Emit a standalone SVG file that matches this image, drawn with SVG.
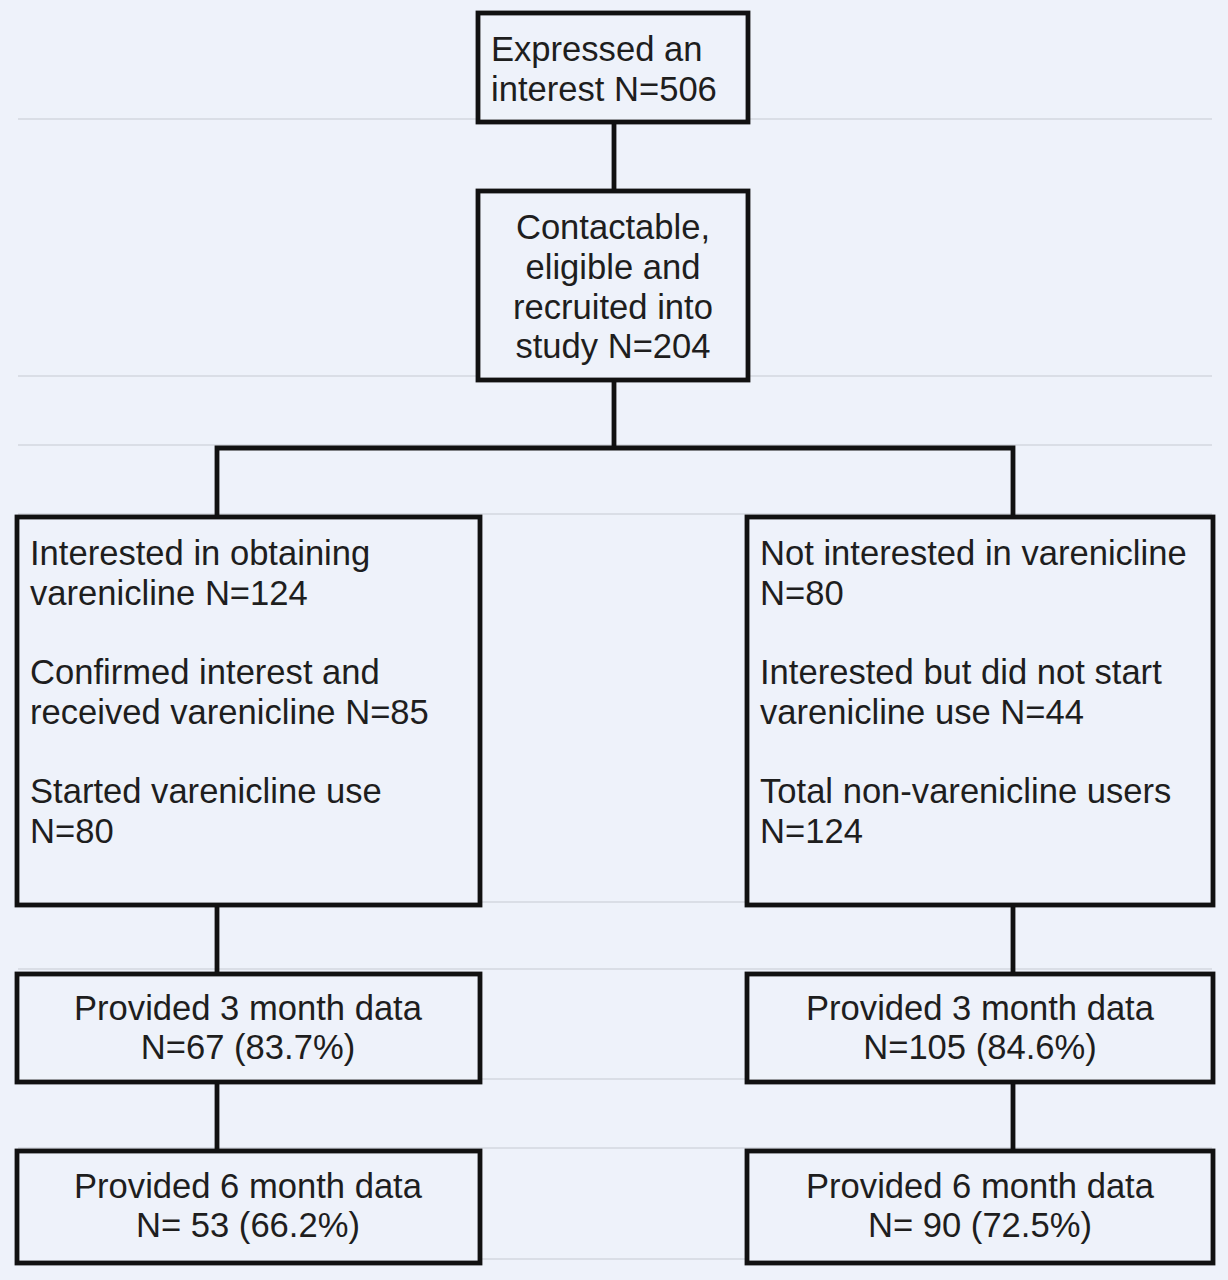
<svg xmlns="http://www.w3.org/2000/svg" width="1228" height="1280" viewBox="0 0 1228 1280">
<style>
.bg{fill:#eef2fa}
.gl{stroke:#d3d7df;stroke-width:1.5;fill:none}
.box{fill:#eef2fa;stroke:#111;stroke-width:4.8}
.con{stroke:#111;stroke-width:4.8;fill:none}
text{font-family:"Liberation Sans",Arial,sans-serif;font-size:34.6px;fill:#1e1e1e}
.c{text-anchor:middle}
</style>
<rect class="bg" x="0" y="0" width="1228" height="1280"/>
<g id="guides">
<line class="gl" x1="18" y1="119" x2="1212" y2="119"/>
<line class="gl" x1="18" y1="376" x2="1212" y2="376"/>
<line class="gl" x1="18" y1="445" x2="1212" y2="445"/>
<line class="gl" x1="18" y1="514" x2="1212" y2="514"/>
<line class="gl" x1="18" y1="902" x2="1212" y2="902"/>
<line class="gl" x1="18" y1="969" x2="1212" y2="969"/>
<line class="gl" x1="18" y1="1079" x2="1212" y2="1079"/>
<line class="gl" x1="18" y1="1148" x2="1212" y2="1148"/>
<line class="gl" x1="18" y1="1259" x2="1212" y2="1259"/>
</g>
<g id="connectors">
<line class="con" x1="614" y1="122" x2="614" y2="191"/>
<polyline class="con" points="614,380 614,448"/>
<polyline class="con" points="217,517 217,448 1013,448 1013,517"/>
<line class="con" x1="217" y1="905" x2="217" y2="974"/>
<line class="con" x1="217" y1="1082" x2="217" y2="1151"/>
<line class="con" x1="1013" y1="905" x2="1013" y2="974"/>
<line class="con" x1="1013" y1="1082" x2="1013" y2="1151"/>
</g>
<g id="n1">
<rect class="box" x="478" y="13" width="270" height="109"/>
<text x="491" y="61">Expressed an</text>
<text x="491" y="101">interest N=506</text>
</g>
<g id="n2">
<rect class="box" x="478" y="191" width="270" height="189"/>
<text class="c" x="613" y="239">Contactable,</text>
<text class="c" x="613" y="279">eligible and</text>
<text class="c" x="613" y="319">recruited into</text>
<text class="c" x="613" y="358">study N=204</text>
</g>
<g id="n3">
<rect class="box" x="17" y="517" width="463" height="388"/>
<text x="30" y="565">Interested in obtaining</text>
<text x="30" y="605">varenicline N=124</text>
<text x="30" y="684">Confirmed interest and</text>
<text x="30" y="724">received varenicline N=85</text>
<text x="30" y="803">Started varenicline use</text>
<text x="30" y="843">N=80</text>
</g>
<g id="n4">
<rect class="box" x="747" y="517" width="466" height="388"/>
<text x="760" y="565">Not interested in varenicline</text>
<text x="760" y="605">N=80</text>
<text x="760" y="684">Interested but did not start</text>
<text x="760" y="724">varenicline use N=44</text>
<text x="760" y="803">Total non-varenicline users</text>
<text x="760" y="843">N=124</text>
</g>
<g id="n5">
<rect class="box" x="17" y="974" width="463" height="108"/>
<text class="c" x="248" y="1020">Provided 3 month data</text>
<text class="c" x="248" y="1059">N=67 (83.7%)</text>
</g>
<g id="n6">
<rect class="box" x="747" y="974" width="466" height="108"/>
<text class="c" x="980" y="1020">Provided 3 month data</text>
<text class="c" x="980" y="1059">N=105 (84.6%)</text>
</g>
<g id="n7">
<rect class="box" x="17" y="1151" width="463" height="112"/>
<text class="c" x="248" y="1198">Provided 6 month data</text>
<text class="c" x="248" y="1237">N= 53 (66.2%)</text>
</g>
<g id="n8">
<rect class="box" x="747" y="1151" width="466" height="112"/>
<text class="c" x="980" y="1198">Provided 6 month data</text>
<text class="c" x="980" y="1237">N= 90 (72.5%)</text>
</g>
</svg>
